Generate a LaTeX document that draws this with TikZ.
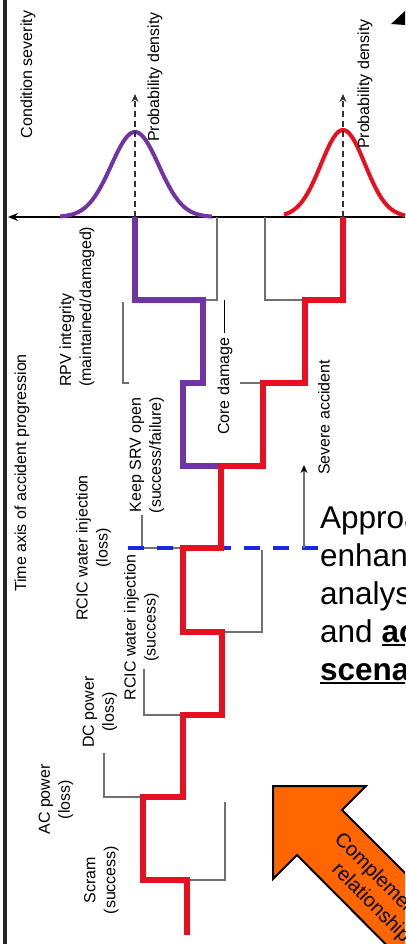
\documentclass[tikz,border=0pt]{standalone}
\usepackage{fontspec}
\setmainfont{Liberation Sans}
\usetikzlibrary{arrows.meta}
\definecolor{evpurple}{RGB}{112, 52, 165}
\definecolor{evred}{RGB}{232, 16, 32}
\definecolor{brgray}{RGB}{112, 112, 112}
\definecolor{dashblue}{RGB}{25, 40, 225}
\definecolor{arrorange}{RGB}{255, 102, 0}
\newcommand{\ulbold}[1]{\setbox0\hbox{\bfseries #1}\rlap{\rule[-4pt]{\wd0}{2pt}}\box0}

\begin{document}
\begin{tikzpicture}[x=1pt, y=-1pt,
  lbl/.style={rotate=90, font=\fontsize{16}{20}\selectfont, align=center, inner sep=0pt},
  branch/.style={draw=brgray, line width=1.3pt},
  purpath/.style={draw=evpurple, line width=5.5pt},
  redpath/.style={draw=evred, line width=5.5pt},
  bell/.style={line width=4pt},
  densarrow/.style={draw=black!80, line width=2.5pt, dash pattern=on 6pt off 4pt, -{Stealth[length=8pt, width=7pt]}}
]
  \useasboundingbox (0,0) rectangle (405,944);
  \clip (0,0) rectangle (405,944);

  % axes
  \coordinate (vtop) at (5,0);
  \coordinate (vbot) at (5,944);
  \coordinate (hright) at (405,217);
  \coordinate (hleft) at (8,217);
  \draw[line width=4pt, black!85] (vtop) -- (vbot);
  \draw[line width=2.5pt, -{Stealth[length=10pt, width=8pt]}] (hright) -- (hleft);

  % density curves
  \draw[bell, evpurple] plot[domain=60:212, samples=90] (\x, {217-85*exp(-((\x-135)^2)/1133)});
  \draw[bell, evred] plot[domain=284:405, samples=90] (\x, {217-87*exp(-((\x-343)^2)/968)});
  \coordinate (pdA0) at (135,217);
  \coordinate (pdA1) at (135,94);
  \coordinate (pdB0) at (343,217);
  \coordinate (pdB1) at (343,94);
  \draw[densarrow] (pdA0) -- (pdA1);
  \draw[densarrow] (pdB0) -- (pdB1);

  % branch stubs
  \draw[branch] (217,217) -- (217,300) -- (203,300);
  \draw[branch] (265,217) -- (265,300) -- (305,300);
  \draw[branch] (123,302) -- (123,383) -- (129,383);
  \draw[branch] (240,383) -- (263,383);
  \draw[branch] (142,515) -- (142,548) -- (183,548);
  \draw[branch] (262,550) -- (262,632) -- (222,632);
  \draw[branch] (144,669) -- (144,715) -- (183,715);
  \draw[branch] (104,753) -- (104,797) -- (143,797);
  \draw[branch] (225,802) -- (225,880) -- (187,880);

  \draw[dashblue, line width=3.5pt, dash pattern=on 16pt off 13pt] (128,548) -- (318,548);

  % accident sequences
  \draw[purpath] (135,217) -- (135,300) -- (203,300) -- (203,383) -- (183,383) -- (183,466) -- (221,466);
  \draw[redpath] (187,935) -- (187,880) -- (143,880) -- (143,797) -- (183,797) -- (183,715)
    -- (222,715) -- (222,632) -- (183,632) -- (183,548) -- (221,548) -- (221,466)
    -- (263,466) -- (263,383) -- (305,383) -- (305,300) -- (343,300) -- (343,217);

  \coordinate (saB) at (304,548);
  \coordinate (saT) at (304,465);
  \draw[branch, -{Stealth[length=8pt, width=7pt, black]}] (saB) -- (saT);

  % labels
  \node[lbl] (sev) at (28,74.5) {Condition severity};
  \node[lbl] (pdA) at (155,77) {Probability density};
  \node[lbl] (pdB) at (365,84) {Probability density};
  \node[lbl, align=left, anchor=west] (rpv) at (77,387) {RPV integrity\\(maintained/damaged)};
  \node[lbl] (time) at (22,473) {Time axis of accident progression};
  \node[lbl] (srv) at (147,455) {Keep SRV open\\(success/failure)};
  \node[lbl, anchor=west] (core) at (225,435) {Core damage \rule[0.25em]{2.1em}{0.8pt}};
  \node[lbl] (severe) at (324,417.5) {Severe accident};
  \node[lbl] (rcicL) at (93.5,548) {RCIC water injection\\(loss)};
  \node[lbl] (rcicS) at (141.5,627.5) {RCIC water injection\\(success)};
  \node[lbl] (dc) at (100,712) {DC power\\(loss)};
  \node[lbl] (ac) at (56,799.5) {AC power\\(loss)};
  \node[lbl] (scram) at (101.5,880) {Scram\\(success)};

  \node[anchor=north west, align=left, inner sep=0pt, font=\fontsize{31.5}{38}\selectfont] (appr) at (320,505)
    {Approach to\\enhance\\analysis\\and \ulbold{accident}\\\ulbold{scenario}};

  \fill (391,24) -- (405,11) -- (405,25) -- cycle;

  \draw[fill=arrorange, line width=2pt, line join=miter] (273,786) -- (366,786) -- (342,810) -- (508,976)
    -- (462,1021) -- (297,855) -- (273,879) -- cycle;
  \node[rotate=-45, align=center, inner sep=0pt, font=\fontsize{20}{23}\selectfont] (compl) at (379,895)
    {Complementary\\relationship};
\end{tikzpicture}
\end{document}
